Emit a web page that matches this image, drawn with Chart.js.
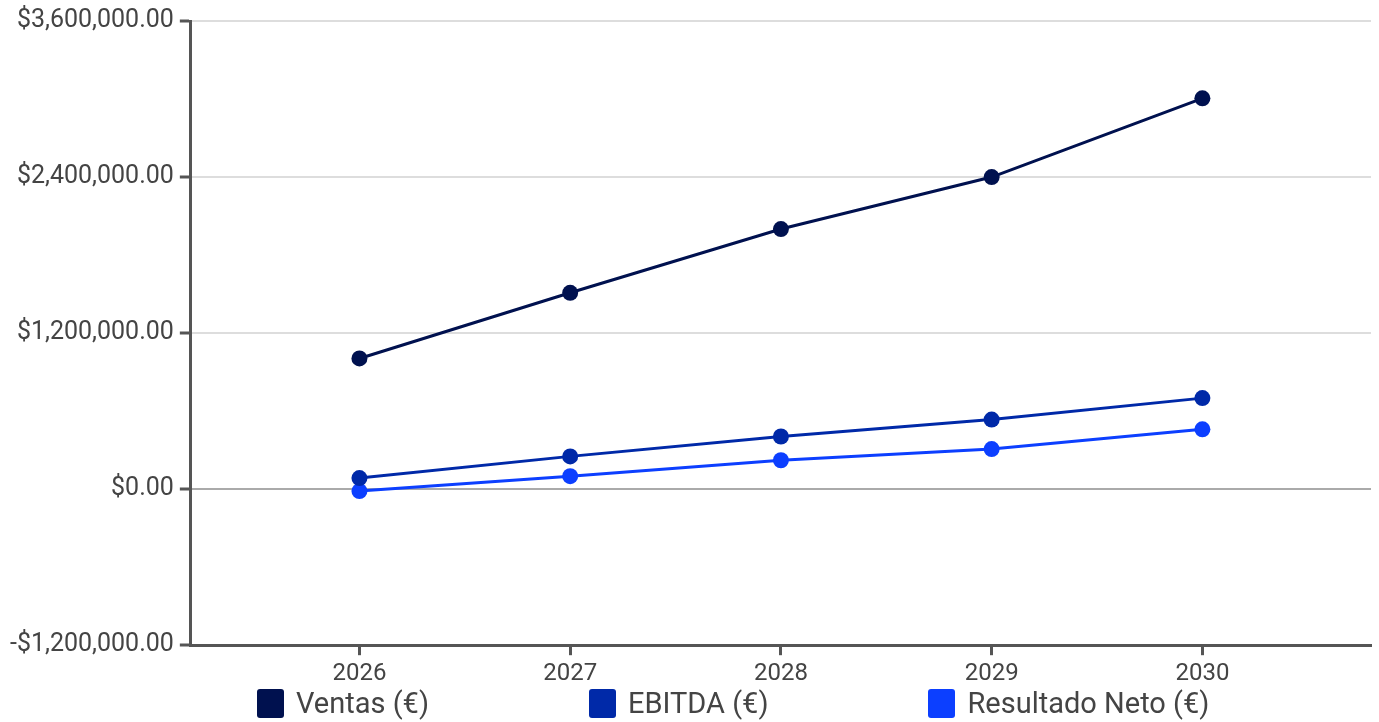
<!DOCTYPE html>
<html>
<head>
<meta charset="utf-8">
<script src="https://cdn.jsdelivr.net/npm/chart.js@4.4.1/dist/chart.umd.min.js"></script>
<style>
    html, body { margin: 0; padding: 0; background: #fff; }
    #wrap { position: relative; width: 1379px; height: 722px; }
    #legend {
        position: absolute; left: 257px; top: 686px;
        display: flex; gap: 160px;
        font-family: Roboto, sans-serif; font-size: 29px; color: #444;
    }
    #legend .item { display: flex; align-items: center; }
    #legend .box { width: 27px; height: 29px; border-radius: 3px; margin-right: 12px; }
</style>
</head>
<body>
<div id="wrap">
    <canvas id="chart" width="1379" height="722"></canvas>
    <div id="legend"></div>
</div>
<script>
// data
var years = [2026, 2027, 2028, 2029, 2030];
var seriesNames = ['Ventas (€)', 'EBITDA (€)', 'Resultado Neto (€)'];
var ventas = [1005000, 1510000, 2000000, 2400000, 3005000];
var ebitda = [85000, 252000, 405000, 535000, 700000];
var resultadoNeto = [-15000, 100000, 222000, 308000, 460000];
var yTicks = [-1200000, 0, 1200000, 2400000, 3600000];
var colors = ['#00114f', '#0029a8', '#0c3fff'];

var money = new Intl.NumberFormat('en-US', { style: 'currency', currency: 'USD', minimumFractionDigits: 2 });

function toPoints(values) {
    return values.map(function (v, i) { return { x: years[i], y: v }; });
}

var allSeries = [ventas, ebitda, resultadoNeto];
var datasets = allSeries.map(function (values, i) {
    return {
        label: seriesNames[i],
        data: toPoints(values),
        borderColor: colors[i],
        backgroundColor: colors[i],
        borderWidth: 3,
        pointRadius: 8,
        pointHoverRadius: 8,
        pointBorderWidth: 0
    };
});

var ctx = document.getElementById('chart').getContext('2d');
var chart = new Chart(ctx, {
    type: 'line',
    data: { datasets: datasets },
    options: {
        responsive: false,
        animation: false,
        layout: { padding: { top: 4, right: 8, left: 4, bottom: 30 } },
        plugins: {
            legend: { display: false },
            tooltip: { enabled: false }
        },
        scales: {
            x: {
                type: 'linear',
                min: years[0] - 0.8,
                max: years[years.length - 1] + 0.8,
                afterBuildTicks: function (axis) {
                    axis.ticks = years.map(function (y) { return { value: y }; });
                },
                ticks: {
                    color: '#444',
                    font: { family: 'Roboto', size: 24 },
                    padding: 4,
                    callback: function (v) { return String(v); }
                },
                grid: { drawOnChartArea: false, tickColor: '#555', tickWidth: 3, tickLength: 10 },
                border: { color: '#555', width: 3 }
            },
            y: {
                min: yTicks[0],
                max: yTicks[yTicks.length - 1],
                afterBuildTicks: function (axis) {
                    axis.ticks = yTicks.map(function (v) { return { value: v }; });
                },
                ticks: {
                    color: '#444',
                    font: { family: 'Roboto', size: 25 },
                    padding: 6,
                    callback: function (v) { return money.format(v); }
                },
                grid: {
                    color: function (c) { return c.tick && c.tick.value === 0 ? '#aaa' : '#ddd'; },
                    lineWidth: 2,
                    tickColor: '#555',
                    tickWidth: 3,
                    tickLength: 11
                },
                border: { color: '#555', width: 3 }
            }
        }
    }
});

// legend below the chart
var legend = document.getElementById('legend');
seriesNames.forEach(function (name, i) {
    var item = document.createElement('div');
    item.className = 'item';
    var box = document.createElement('span');
    box.className = 'box';
    box.style.background = colors[i];
    var label = document.createElement('span');
    label.textContent = name;
    item.appendChild(box);
    item.appendChild(label);
    legend.appendChild(item);
});
</script>
</body>
</html>
